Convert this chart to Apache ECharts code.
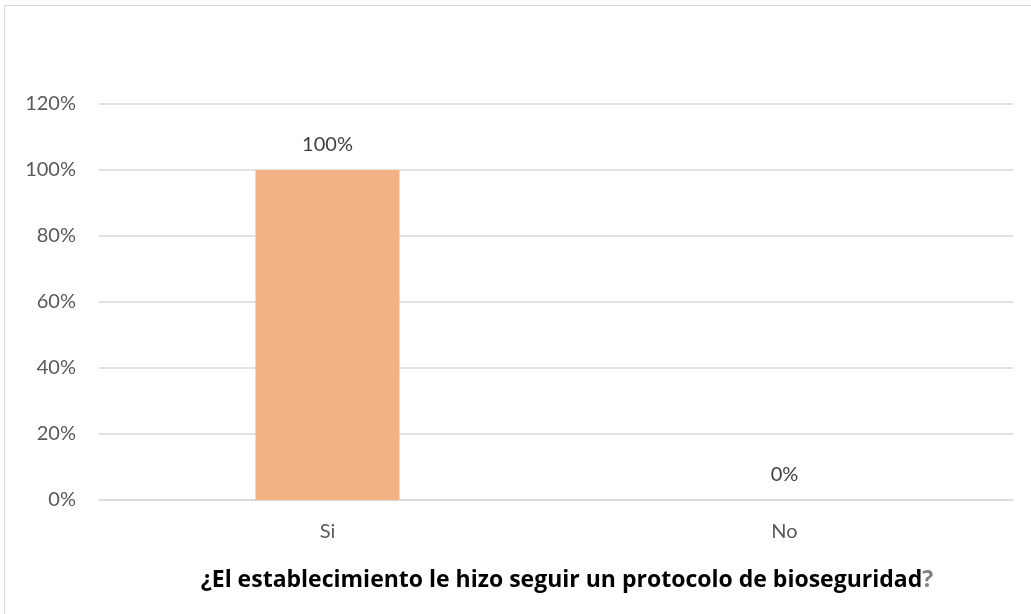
<!DOCTYPE html>
<html>
<head>
<meta charset="utf-8">
<script src="https://cdn.jsdelivr.net/npm/echarts@6/dist/echarts.min.js"></script>
<style>
  html, body { margin: 0; padding: 0; background: #fff; }
  #frame {
    position: absolute; left: 4px; top: 5px; width: 1040px; height: 620px;
    border: 1px solid #d9d9d9; box-sizing: border-box;
  }
  #chart { position: absolute; left: 0; top: 0; width: 1031px; height: 614px; }
</style>
</head>
<body>
<div id="frame"></div>
<div id="chart"></div>
<script>
// datos
var categorias = ['Si', 'No'];
var valores = [100, 0];
var ticksY = [0, 20, 40, 60, 80, 100, 120];

var chart = echarts.init(document.getElementById('chart'));
chart.setOption({
  animation: false,
  textStyle: { fontFamily: 'Lato' },
  title: {
    text: '{b|¿El establecimiento le hizo seguir un protocolo de bioseguridad}{g|?}',
    left: 562,
    textAlign: 'center',
    top: 564,
    textStyle: {
      rich: {
        b: { fontFamily: 'Open Sans', fontWeight: 'bold', fontSize: 23, color: '#000' },
        g: { fontFamily: 'Open Sans', fontWeight: 'bold', fontSize: 23, color: '#7f7f7f' }
      }
    }
  },
  grid: { left: 99, right: 18, top: 104, bottom: 114, containLabel: false },
  xAxis: {
    type: 'category',
    data: categorias,
    axisLine: { lineStyle: { color: '#d9d9d9', width: 1.5 } },
    axisTick: { show: false },
    axisLabel: { color: '#595959', fontSize: 20, margin: 22 }
  },
  yAxis: {
    type: 'value',
    min: ticksY[0],
    max: ticksY[ticksY.length - 1],
    interval: 20,
    axisLine: { show: false },
    axisTick: { show: false },
    splitLine: { lineStyle: { color: '#d9d9d9', width: 1.5 } },
    axisLabel: { color: '#595959', fontSize: 20, margin: 23, formatter: '{value}%' }
  },
  series: [{
    type: 'bar',
    data: valores,
    barWidth: 144,
    itemStyle: { color: '#f4b183' },
    label: {
      show: true,
      position: 'top',
      distance: 15,
      color: '#404040',
      fontSize: 20,
      formatter: '{c}%'
    }
  }]
});
</script>
</body>
</html>
